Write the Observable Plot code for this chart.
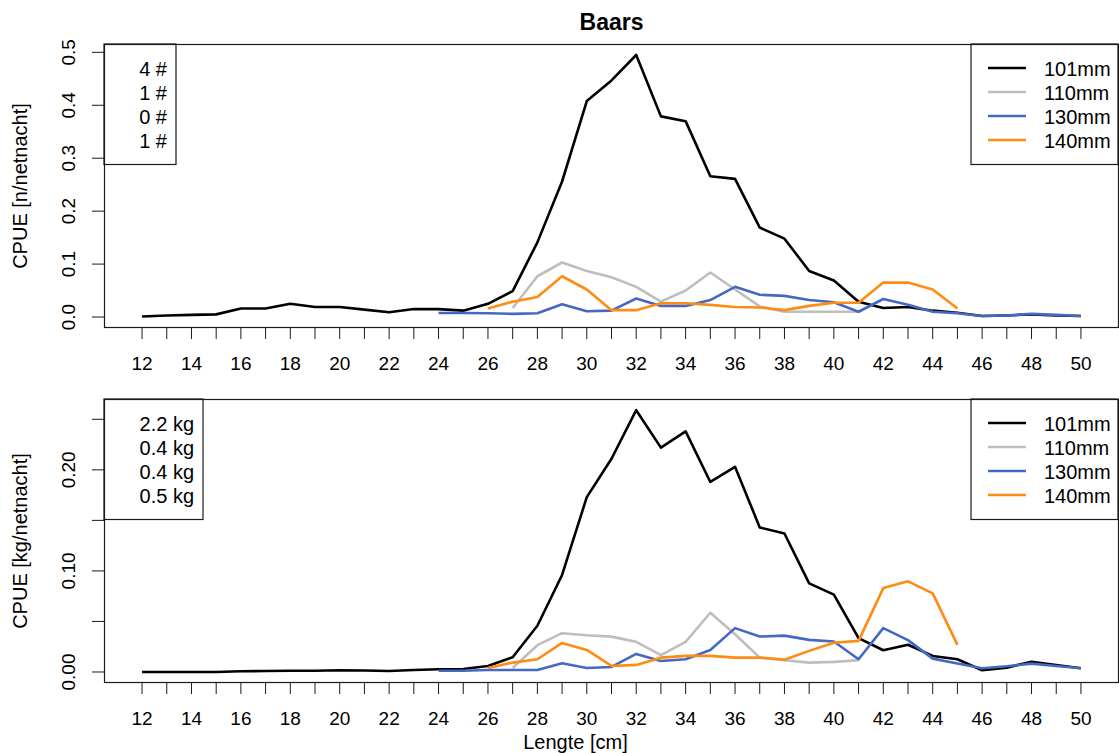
<!DOCTYPE html>
<html><head><meta charset="utf-8">
<script src="https://cdn.jsdelivr.net/npm/d3@7"></script>
<script src="https://cdn.jsdelivr.net/npm/@observablehq/plot@0.6"></script>
<style>
body{margin:0;background:#fff;}
#chart{width:1119px;height:753px;position:relative;background:#fff;}
#chart svg{display:block;}
</style></head><body><div id="chart"></div>
<script>
// ---- data ----
const lengths = [12,13,14,15,16,17,18,19,20,21,22,23,24,25,26,27,28,29,30,31,32,33,34,35,36,37,38,39,40,41,42,43,44,45,46,47,48,49,50];
const xLabelTicks = [12,14,16,18,20,22,24,26,28,30,32,34,36,38,40,42,44,46,48,50];
const seriesNames = ["101mm","110mm","130mm","140mm"];
const seriesColors = ["#000000","#bebebe","#4468c4","#ff8c12"];

// CPUE [n/netnacht]
const n101 = [0.001,0.003,0.004,0.005,0.016,0.016,0.025,0.019,0.019,0.014,0.009,0.015,0.015,0.012,0.025,0.049,0.141,0.256,0.408,0.447,0.495,0.379,0.370,0.266,0.261,0.169,0.148,0.087,0.069,0.029,0.017,0.019,0.012,0.008,0.002,0.003,0.005,0.003,0.002];
const n110 = [null,null,null,null,null,null,null,null,null,null,null,null,null,null,null,0.017,0.077,0.103,0.087,0.075,0.057,0.029,0.050,0.084,0.052,0.020,0.010,0.010,0.010,0.010,null,null,null,null,null,null,null,null,null];
const n130 = [null,null,null,null,null,null,null,null,null,null,null,null,0.0075,0.0075,0.007,0.006,0.007,0.024,0.011,0.012,0.035,0.021,0.021,0.032,0.057,0.042,0.040,0.032,0.028,0.010,0.034,0.023,0.010,0.007,0.002,0.003,0.006,0.004,0.002];
const n140 = [null,null,null,null,null,null,null,null,null,null,null,null,null,null,0.016,0.029,0.038,0.077,0.052,0.013,0.013,0.026,0.026,0.023,0.019,0.018,0.013,0.021,0.027,0.027,0.065,0.065,0.052,0.016,null,null,null,null,null];

// CPUE [kg/netnacht]
const k101 = [0,0,0,0,0.0007,0.001,0.0013,0.0013,0.0017,0.0015,0.001,0.002,0.0027,0.003,0.006,0.0146,0.0457,0.096,0.173,0.211,0.259,0.222,0.238,0.188,0.203,0.143,0.137,0.0877,0.0765,0.0335,0.0215,0.027,0.0159,0.0126,0.0017,0.0043,0.0102,0.007,0.0037];
const k110 = [null,null,null,null,null,null,null,null,null,null,null,null,null,null,null,0.004,0.0265,0.0384,0.0364,0.035,0.0298,0.0166,0.0298,0.0586,0.0374,0.0142,0.0116,0.0093,0.010,0.0116,null,null,null,null,null,null,null,null,null];
const k130 = [null,null,null,null,null,null,null,null,null,null,null,null,0.0013,0.0013,0.002,0.002,0.002,0.0086,0.004,0.005,0.0179,0.0109,0.0126,0.0218,0.0434,0.0351,0.036,0.0318,0.0301,0.0126,0.0434,0.0315,0.0132,0.0083,0.0037,0.0057,0.0083,0.006,0.0037];
const k140 = [null,null,null,null,null,null,null,null,null,null,null,null,null,null,0.004,0.0093,0.0126,0.0288,0.0218,0.006,0.007,0.0142,0.0159,0.0159,0.0142,0.0142,0.0122,0.0209,0.029,0.0308,0.083,0.0897,0.0778,0.0268,null,null,null,null,null];

const topTicks = [0,0.1,0.2,0.3,0.4,0.5];
const topLabels = [0,0.1,0.2,0.3,0.4,0.5];
const botTicks = [0,0.05,0.1,0.15,0.2,0.25];
const botLabels = [0,0.1,0.2];
const topTotals = ["4 #","1 #","0 #","1 #"];
const botTotals = ["2.2 kg","0.4 kg","0.4 kg","0.5 kg"];

// ---- drawing ----
const FONT = "'Liberation Sans', Arial, Helvetica, sans-serif";
const INK = "#1a1a1a";
const TXT = 20;

function rows(vals, name) {
  return lengths.map((l, i) => ({len: l, val: vals[i], series: name})).filter(d => d.val != null);
}

function boxesMark(totals, boxW) {
  return (index, scales, values, dim) => {
    const g = d3.create("svg:g").attr("font-family", FONT).attr("font-size", TXT).attr("text-anchor", "start");
    const top = dim.marginTop, left = dim.marginLeft, right = dim.width - dim.marginRight;
    const boxH = 120.5, rowY = i => top + 25 + 24 * i;
    // totals box (top-left)
    g.append("rect").attr("x", left).attr("y", top).attr("width", boxW).attr("height", boxH)
      .attr("fill", "white").attr("stroke", INK).attr("stroke-width", 1.2);
    totals.forEach((t, i) => g.append("text").attr("x", left + boxW - 9).attr("y", rowY(i))
      .attr("text-anchor", "end").attr("dy", "0.35em").attr("fill", "black").text(t));
    // legend box (top-right)
    const lx = right - 147;
    g.append("rect").attr("x", lx).attr("y", top).attr("width", 147).attr("height", boxH)
      .attr("fill", "white").attr("stroke", INK).attr("stroke-width", 1.2);
    seriesNames.forEach((s, i) => {
      g.append("line").attr("x1", lx + 17).attr("x2", lx + 55).attr("y1", rowY(i) - 1).attr("y2", rowY(i) - 1)
        .attr("stroke", seriesColors[i]).attr("stroke-width", 2.6);
      g.append("text").attr("x", lx + 73).attr("y", rowY(i)).attr("dy", "0.35em")
        .attr("text-anchor", "start").attr("fill", "black").text(s);
    });
    return g.node();
  };
}

function panel(o) {
  const sets = o.sets.map((v, i) => rows(v, seriesNames[i]));
  const marks = [
    Plot.axisX({ticks: lengths, tickSize: 12, tickPadding: 17, tickFormat: d => xLabelTicks.includes(d) ? String(d) : "",
      fontSize: 19, stroke: INK, fill: "black"}),
    Plot.axisY({ticks: o.yTicks, tickSize: 12, tickFormat: () => "", stroke: INK}),
    Plot.text(o.yLabels, {y: d => d, text: d => d3.format(o.fmt)(d), frameAnchor: "left", dx: -36, rotate: -90,
      textAnchor: "middle", lineAnchor: "middle", fontSize: 19, fill: "black"}),
    Plot.text([o.ylab], {text: d => d, frameAnchor: "left", dx: -84, rotate: -90,
      textAnchor: "middle", lineAnchor: "middle", fontSize: TXT, fill: "black"}),
    ...sets.map((s, i) => Plot.line(s, {x: "len", y: "val", stroke: seriesColors[i], strokeWidth: 2.6,
      strokeLinejoin: "round", strokeLinecap: "butt"})),
    boxesMark(o.totals, o.boxW),
    Plot.frame({stroke: INK, strokeWidth: 1.2})
  ];
  if (o.title) marks.push(Plot.text([o.title], {text: d => d, frameAnchor: "top", dy: -22,
    textAnchor: "middle", lineAnchor: "middle", fontSize: 23, fontWeight: "bold", fill: "black"}));
  if (o.xlab) marks.push(Plot.text([o.xlab], {text: d => d, frameAnchor: "bottom", dy: 60, dx: -36,
    textAnchor: "middle", lineAnchor: "middle", fontSize: TXT, fill: "black"}));
  return Plot.plot({
    width: 1119, height: o.height,
    marginTop: o.mt, marginBottom: o.mb, marginLeft: 104, marginRight: 1,
    style: {fontFamily: FONT, fontSize: "19px", background: "white", color: "black"},
    x: {domain: [10.48, 51.52], label: null},
    y: {domain: o.domain, label: null},
    marks
  });
}

const chart = document.getElementById("chart");
chart.append(panel({
  height: 378, mt: 44, mb: 51, domain: [-0.0198, 0.5148],
  sets: [n101, n110, n130, n140], yTicks: topTicks, yLabels: topLabels, fmt: ".1f",
  ylab: "CPUE [n/netnacht]", totals: topTotals, boxW: 72, title: "Baars"
}));
chart.append(panel({
  height: 375, mt: 21, mb: 71, domain: [-0.0104, 0.2696],
  sets: [k101, k110, k130, k140], yTicks: botTicks, yLabels: botLabels, fmt: ".2f",
  ylab: "CPUE [kg/netnacht]", totals: botTotals, boxW: 99, xlab: "Lengte [cm]"
}));
</script></body></html>
